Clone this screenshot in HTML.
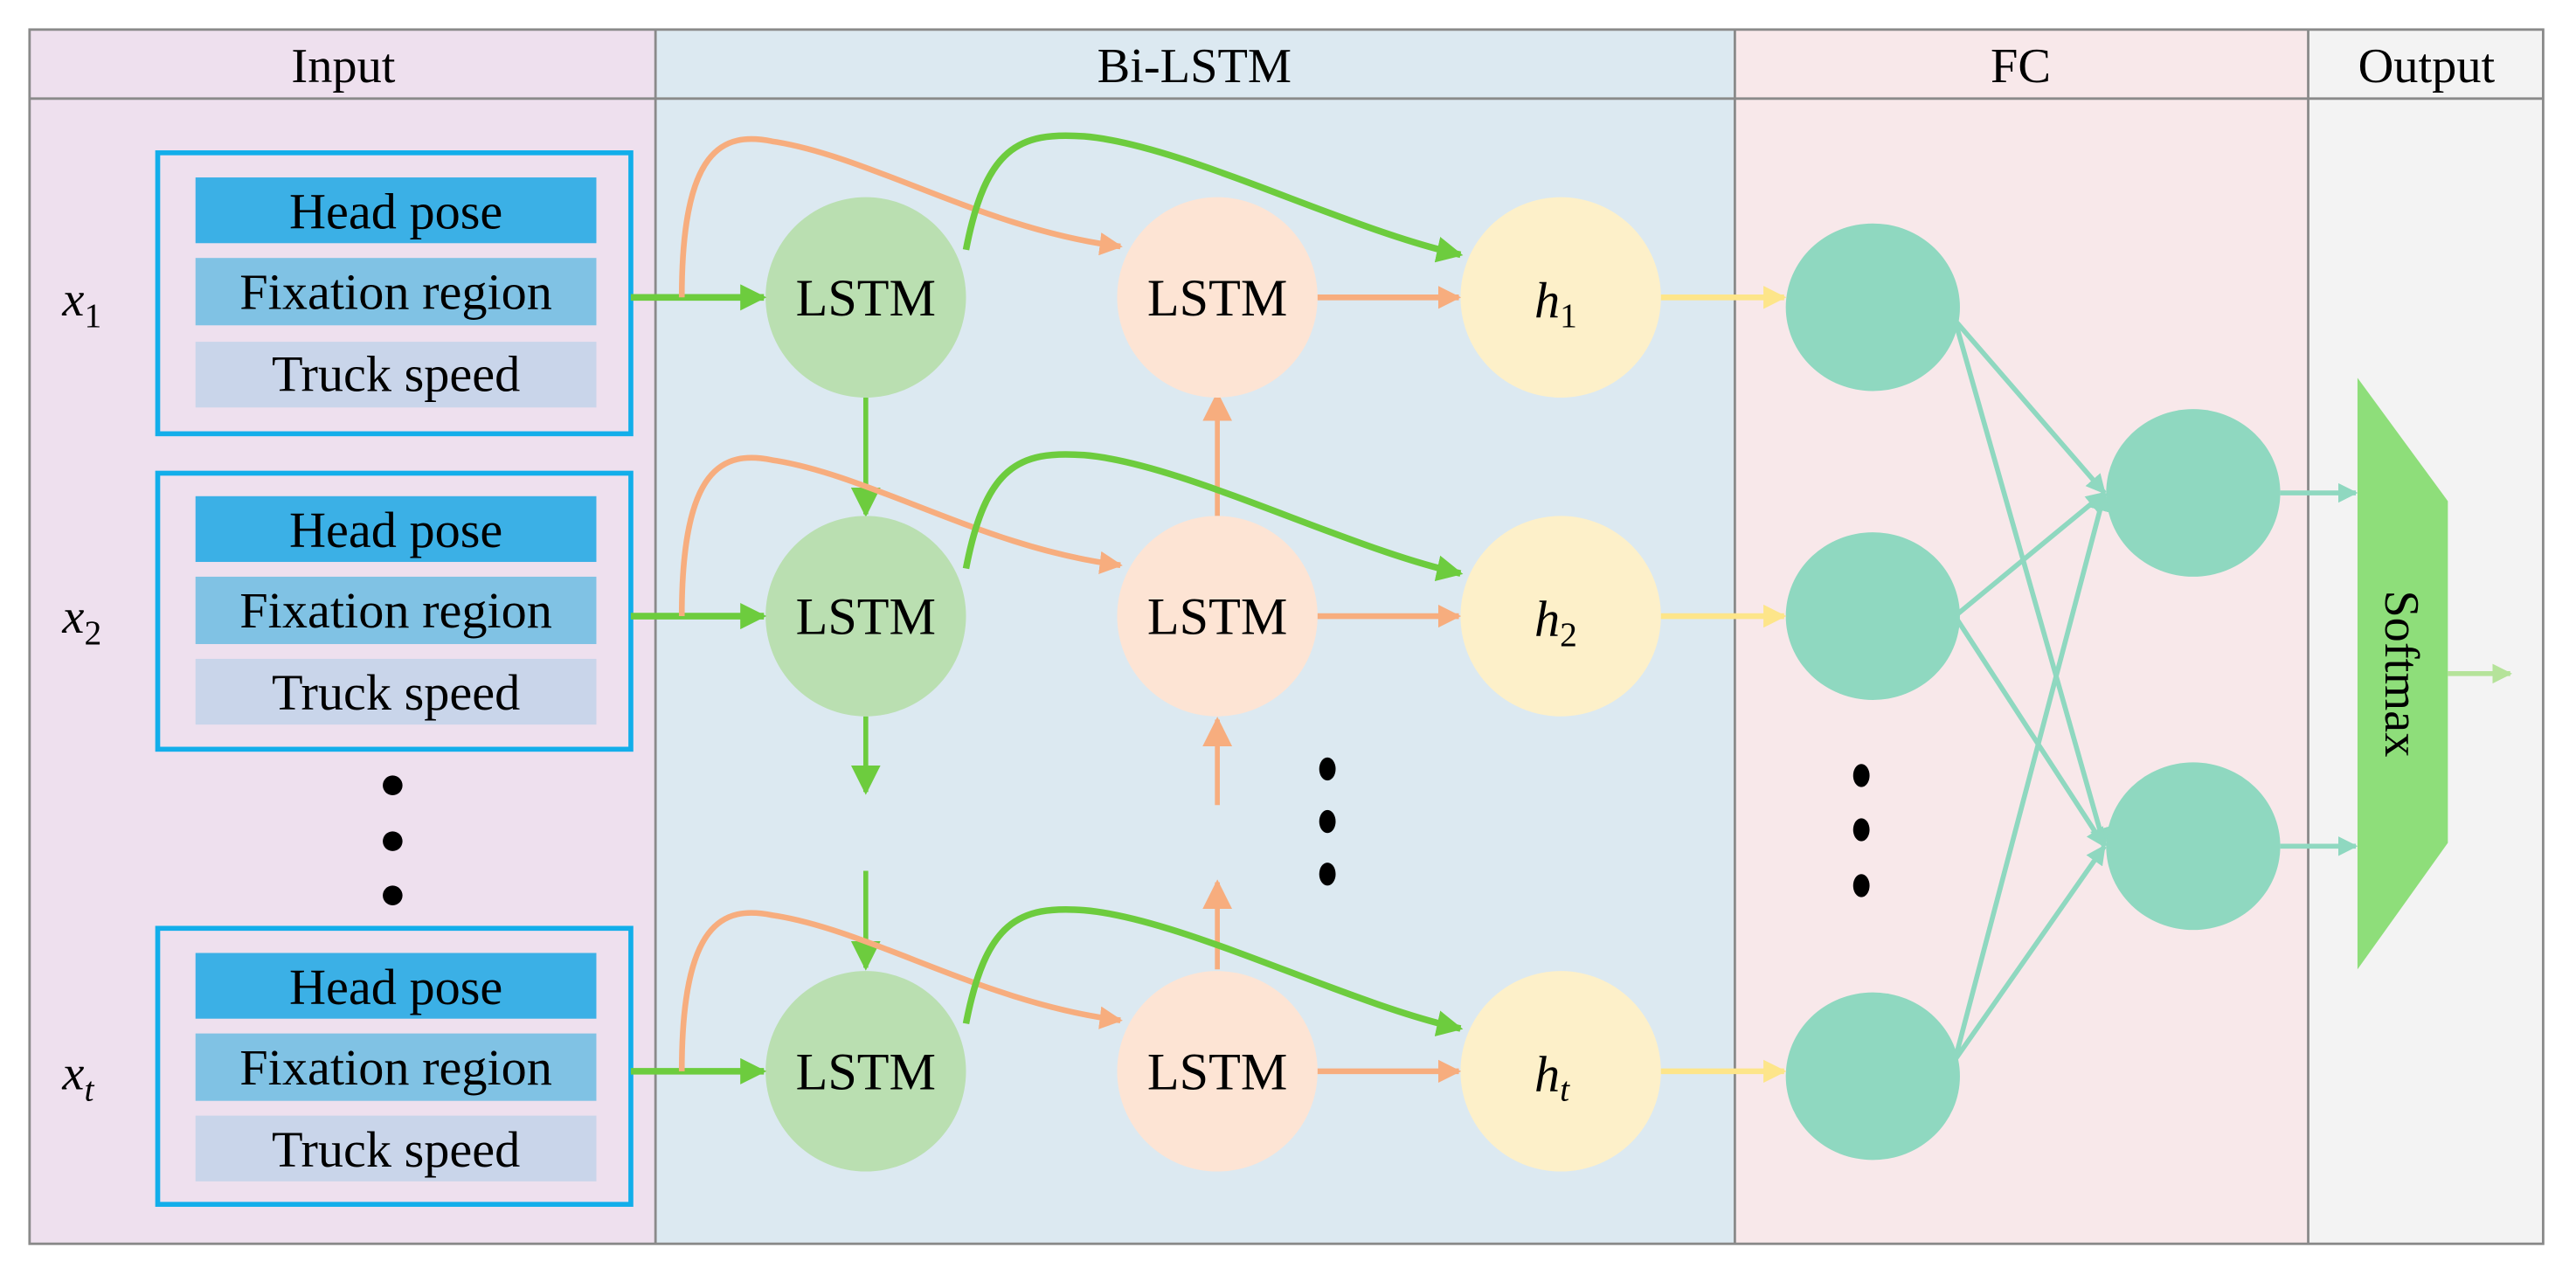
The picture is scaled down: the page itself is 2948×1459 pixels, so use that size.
<!DOCTYPE html>
<html><head><meta charset="utf-8"><style>
html,body{margin:0;padding:0;background:#fff}
svg{display:block}
text{font-family:"Liberation Serif",serif;fill:#000}
</style></head><body>
<svg width="2948" height="1459" viewBox="0 0 1568 776" preserveAspectRatio="none" xmlns="http://www.w3.org/2000/svg">
<defs>
<marker id="ag" viewBox="0 0 10 10" refX="9" refY="5" markerWidth="4" markerHeight="4" orient="auto" markerUnits="strokeWidth"><path d="M0,0L10,5L0,10z" fill="#6dcc3e"/></marker>
<marker id="ag2" viewBox="0 0 10 10" refX="9" refY="5" markerWidth="6" markerHeight="6" orient="auto" markerUnits="strokeWidth"><path d="M0,0L10,5L0,10z" fill="#6dcc3e"/></marker>
<marker id="ao" viewBox="0 0 10 10" refX="9" refY="5" markerWidth="4" markerHeight="4" orient="auto" markerUnits="strokeWidth"><path d="M0,0L10,5L0,10z" fill="#f7ad7e"/></marker>
<marker id="ao2" viewBox="0 0 10 10" refX="9" refY="5" markerWidth="6" markerHeight="6" orient="auto" markerUnits="strokeWidth"><path d="M0,0L10,5L0,10z" fill="#f7ad7e"/></marker>
<marker id="ay" viewBox="0 0 10 10" refX="9" refY="5" markerWidth="4" markerHeight="4" orient="auto" markerUnits="strokeWidth"><path d="M0,0L10,5L0,10z" fill="#fde58a"/></marker>
<marker id="at" viewBox="0 0 10 10" refX="9" refY="5" markerWidth="4" markerHeight="4" orient="auto" markerUnits="strokeWidth"><path d="M0,0L10,5L0,10z" fill="#8fd8c0"/></marker>
<marker id="al" viewBox="0 0 10 10" refX="9" refY="5" markerWidth="4" markerHeight="4" orient="auto" markerUnits="strokeWidth"><path d="M0,0L10,5L0,10z" fill="#b5e39a"/></marker>
</defs>
<rect x="18" y="18" width="381" height="739" fill="#eee0ee"/>
<rect x="399" y="18" width="657" height="739" fill="#dce9f1"/>
<rect x="1056" y="18" width="349" height="739" fill="#f8e8ea"/>
<rect x="1405" y="18" width="143" height="739" fill="#f3f3f3"/>
<g stroke="#8a8a8a" stroke-width="1.5" fill="none">
<rect x="18" y="18" width="1530" height="739"/>
<line x1="18" y1="60" x2="1548" y2="60"/>
<line x1="399" y1="18" x2="399" y2="757"/>
<line x1="1056" y1="18" x2="1056" y2="757"/>
<line x1="1405" y1="18" x2="1405" y2="757"/>
</g>
<g font-size="30" text-anchor="middle">
<text x="209" y="50">Input</text>
<text x="727" y="50">Bi-LSTM</text>
<text x="1230" y="50">FC</text>
<text x="1477" y="50">Output</text>
</g>
<g font-size="31" text-anchor="middle">
<g>
<rect x="96" y="93" width="288" height="171" fill="none" stroke="#12aeea" stroke-width="3"/>
<rect x="119" y="108" width="244" height="40" fill="#3bb0e6"/>
<rect x="119" y="157" width="244" height="41" fill="#80c2e4"/>
<rect x="119" y="208" width="244" height="40" fill="#c9d5ea"/>
<text x="241" y="139">Head pose</text><text x="241" y="188">Fixation region</text><text x="241" y="238">Truck speed</text>
</g>
<g>
<rect x="96" y="288" width="288" height="168" fill="none" stroke="#12aeea" stroke-width="3"/>
<rect x="119" y="302" width="244" height="40" fill="#3bb0e6"/>
<rect x="119" y="351" width="244" height="41" fill="#80c2e4"/>
<rect x="119" y="401" width="244" height="40" fill="#c9d5ea"/>
<text x="241" y="333">Head pose</text><text x="241" y="382">Fixation region</text><text x="241" y="432">Truck speed</text>
</g>
<g>
<rect x="96" y="565" width="288" height="168" fill="none" stroke="#12aeea" stroke-width="3"/>
<rect x="119" y="580" width="244" height="40" fill="#3bb0e6"/>
<rect x="119" y="629" width="244" height="41" fill="#80c2e4"/>
<rect x="119" y="679" width="244" height="40" fill="#c9d5ea"/>
<text x="241" y="611">Head pose</text><text x="241" y="660">Fixation region</text><text x="241" y="710">Truck speed</text>
</g>
</g>
<g font-size="30" font-style="italic">
<text x="38" y="192">x<tspan font-size="21" font-style="normal" dy="7">1</tspan></text>
<text x="38" y="385">x<tspan font-size="21" font-style="normal" dy="7">2</tspan></text>
<text x="38" y="663">x<tspan font-size="21" font-style="italic" dy="7">t</tspan></text>
</g>
<g fill="#000">
<circle cx="239" cy="478" r="6"/><circle cx="239" cy="512" r="6"/><circle cx="239" cy="545" r="6"/>
<ellipse cx="808" cy="468" rx="5" ry="7"/><ellipse cx="808" cy="500" rx="5" ry="7"/><ellipse cx="808" cy="532" rx="5" ry="7"/>
<ellipse cx="1133" cy="472" rx="5" ry="7"/><ellipse cx="1133" cy="505" rx="5" ry="7"/><ellipse cx="1133" cy="539" rx="5" ry="7"/>
</g>
<g stroke-width="3" fill="none">
<line x1="527" y1="242" x2="527" y2="313" stroke="#6dcc3e" marker-end="url(#ag2)"/>
<line x1="527" y1="436" x2="527" y2="482" stroke="#6dcc3e" marker-end="url(#ag2)"/>
<line x1="527" y1="530" x2="527" y2="589" stroke="#6dcc3e" marker-end="url(#ag2)"/>
<line x1="741" y1="314" x2="741" y2="240" stroke="#f7ad7e" marker-end="url(#ao2)"/>
<line x1="741" y1="490" x2="741" y2="438" stroke="#f7ad7e" marker-end="url(#ao2)"/>
<line x1="741" y1="590" x2="741" y2="537" stroke="#f7ad7e" marker-end="url(#ao2)"/>
</g>
<g>
<g>
<circle cx="527" cy="181" r="61" fill="#badfb1"/>
<circle cx="741" cy="181" r="61" fill="#fde4d4"/>
<circle cx="950" cy="181" r="61" fill="#fdf0c9"/>
<ellipse cx="1140" cy="187" rx="53" ry="51" fill="#8fd8c0"/>
<line x1="384" y1="181" x2="465" y2="181" stroke="#6dcc3e" stroke-width="4" marker-end="url(#ag)"/>
<path d="M415,181 C415,90 440,80 470,86 C530,95 600,140 682,150" stroke="#f7ad7e" stroke-width="3.5" fill="none" marker-end="url(#ao)"/>
<path d="M588,152 C600,90 620,80 660,83 C720,88 820,140 889,155" stroke="#6dcc3e" stroke-width="4" fill="none" marker-end="url(#ag)"/>
<line x1="802" y1="181" x2="888" y2="181" stroke="#f7ad7e" stroke-width="3.5" marker-end="url(#ao)"/>
<line x1="1011" y1="181" x2="1086" y2="181" stroke="#fde58a" stroke-width="3.5" marker-end="url(#ay)"/>
</g>
<g>
<circle cx="527" cy="375" r="61" fill="#badfb1"/>
<circle cx="741" cy="375" r="61" fill="#fde4d4"/>
<circle cx="950" cy="375" r="61" fill="#fdf0c9"/>
<ellipse cx="1140" cy="375" rx="53" ry="51" fill="#8fd8c0"/>
<line x1="384" y1="375" x2="465" y2="375" stroke="#6dcc3e" stroke-width="4" marker-end="url(#ag)"/>
<path d="M415,375 C415,284 440,274 470,280 C530,289 600,334 682,344" stroke="#f7ad7e" stroke-width="3.5" fill="none" marker-end="url(#ao)"/>
<path d="M588,346 C600,284 620,274 660,277 C720,282 820,334 889,349" stroke="#6dcc3e" stroke-width="4" fill="none" marker-end="url(#ag)"/>
<line x1="802" y1="375" x2="888" y2="375" stroke="#f7ad7e" stroke-width="3.5" marker-end="url(#ao)"/>
<line x1="1011" y1="375" x2="1086" y2="375" stroke="#fde58a" stroke-width="3.5" marker-end="url(#ay)"/>
</g>
<g>
<circle cx="527" cy="652" r="61" fill="#badfb1"/>
<circle cx="741" cy="652" r="61" fill="#fde4d4"/>
<circle cx="950" cy="652" r="61" fill="#fdf0c9"/>
<ellipse cx="1140" cy="655" rx="53" ry="51" fill="#8fd8c0"/>
<line x1="384" y1="652" x2="465" y2="652" stroke="#6dcc3e" stroke-width="4" marker-end="url(#ag)"/>
<path d="M415,652 C415,561 440,551 470,557 C530,566 600,611 682,621" stroke="#f7ad7e" stroke-width="3.5" fill="none" marker-end="url(#ao)"/>
<path d="M588,623 C600,561 620,551 660,554 C720,559 820,611 889,626" stroke="#6dcc3e" stroke-width="4" fill="none" marker-end="url(#ag)"/>
<line x1="802" y1="652" x2="888" y2="652" stroke="#f7ad7e" stroke-width="3.5" marker-end="url(#ao)"/>
<line x1="1011" y1="652" x2="1086" y2="652" stroke="#fde58a" stroke-width="3.5" marker-end="url(#ay)"/>
</g>
</g>
<g font-size="32" text-anchor="middle">
<text x="527" y="192">LSTM</text><text x="741" y="192">LSTM</text>
<text x="527" y="386">LSTM</text><text x="741" y="386">LSTM</text>
<text x="527" y="663">LSTM</text><text x="741" y="663">LSTM</text>
</g>
<g font-size="31" font-style="italic">
<text x="934" y="193">h<tspan font-size="21" font-style="normal" dy="6">1</tspan></text>
<text x="934" y="387">h<tspan font-size="21" font-style="normal" dy="6">2</tspan></text>
<text x="934" y="664">h<tspan font-size="21" dy="6">t</tspan></text>
</g>
<ellipse cx="1335" cy="300" rx="53" ry="51" fill="#8fd8c0"/>
<ellipse cx="1335" cy="515" rx="53" ry="51" fill="#8fd8c0"/>
<g stroke="#8fd8c0" stroke-width="3" fill="none">
<line x1="1190" y1="195" x2="1281" y2="300" marker-end="url(#at)"/>
<line x1="1190" y1="195" x2="1281" y2="515" marker-end="url(#at)"/>
<line x1="1190" y1="375" x2="1281" y2="300" marker-end="url(#at)"/>
<line x1="1190" y1="375" x2="1281" y2="515" marker-end="url(#at)"/>
<line x1="1190" y1="645" x2="1281" y2="300" marker-end="url(#at)"/>
<line x1="1190" y1="645" x2="1281" y2="515" marker-end="url(#at)"/>
<line x1="1388" y1="300" x2="1434" y2="300" marker-end="url(#at)"/>
<line x1="1388" y1="515" x2="1434" y2="515" marker-end="url(#at)"/>
</g>
<polygon points="1435,230 1490,305 1490,513 1435,590" fill="#8ede7a"/>
<line x1="1490" y1="410" x2="1528" y2="410" stroke="#b5e39a" stroke-width="3" marker-end="url(#al)"/>
<text x="0" y="0" font-size="30" text-anchor="middle" transform="translate(1452,410) rotate(90)">Softmax</text>
</svg>
</body></html>
